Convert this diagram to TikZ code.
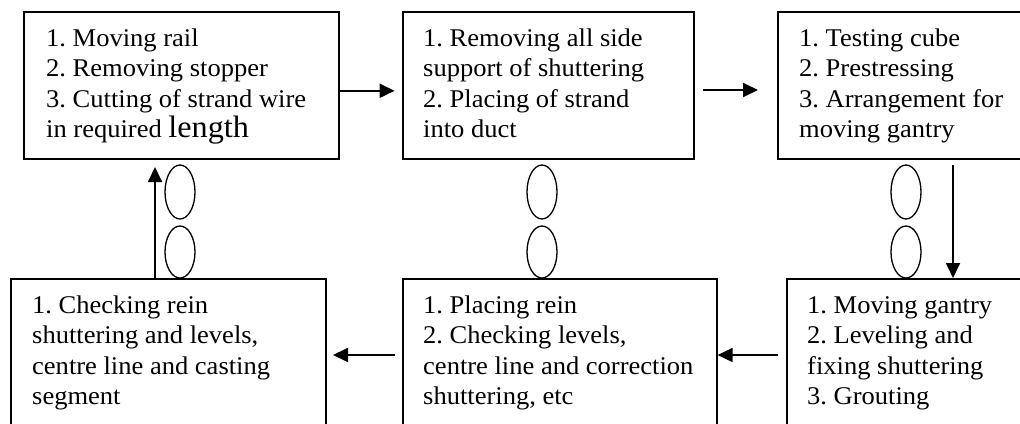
\documentclass[tikz,border=0pt]{standalone}
\usepackage{fontspec}
\setmainfont[FakeStretch=1.04]{Liberation Serif}
\usetikzlibrary{arrows.meta,shapes.geometric}
\begin{document}
\frenchspacing
\begin{tikzpicture}[x=1pt,y=-1pt,
  box/.style={draw, line width=1.6pt, rectangle, inner sep=0pt, anchor=north west},
  txt/.style={anchor=base west, inner sep=0pt, font=\fontsize{25.5}{30.5}\selectfont},
  link/.style={line width=1.8pt, -{Triangle[length=15pt,width=14pt]}},
  ring/.style={draw, line width=1.3pt, ellipse, minimum width=30pt, minimum height=54pt, inner sep=0pt}]
\useasboundingbox (0,0) rectangle (1020,423);
\clip (0,0) rectangle (1020,423);
% boxes
\node[box, minimum width=315pt, minimum height=147pt] (A) at (23,11) {};
\node[box, minimum width=291pt, minimum height=147pt] (B) at (402,11) {};
\node[box, minimum width=260pt, minimum height=147pt] (C) at (777,11) {};
\node[box, minimum width=260pt, minimum height=170pt] (D) at (786,278) {};
\node[box, minimum width=314pt, minimum height=170pt] (E) at (402,278) {};
\node[box, minimum width=315pt, minimum height=170pt] (F) at (10,278) {};
% texts
\node[txt] (tA) at (46,46) {\vtop{\hbox{1. Moving rail}\hbox{2. Removing stopper}\hbox{3. Cutting of strand wire}\hbox{in required {\fontsize{31}{31}\selectfont length}}}};
\node[txt] (tB) at (423,46) {\vtop{\hbox{1. Removing all side}\hbox{support of shuttering}\hbox{2. Placing of strand}\hbox{into duct}}};
\node[txt] (tC) at (799,46) {\vtop{\hbox{1. Testing cube}\hbox{2. Prestressing}\hbox{3. Arrangement for}\hbox{moving gantry}}};
\node[txt] (tF) at (32,313) {\vtop{\hbox{1. Checking rein}\hbox{shuttering and levels,}\hbox{centre line and casting}\hbox{segment}}};
\node[txt] (tE) at (423,313) {\vtop{\hbox{1. Placing rein}\hbox{2. Checking levels,}\hbox{centre line and correction}\hbox{shuttering, etc}}};
\node[txt] (tD) at (807,313) {\vtop{\hbox{1. Moving gantry}\hbox{2. Leveling and}\hbox{fixing shuttering}\hbox{3. Grouting}}};
% ellipses
\node[ring] (e1) at (180,192) {};
\node[ring, minimum height=52pt] (e2) at (180,252) {};
\node[ring] (e3) at (542,192) {};
\node[ring, minimum height=52pt] (e4) at (542,252) {};
\node[ring] (e5) at (906,192) {};
\node[ring, minimum height=52pt] (e6) at (906,252) {};
% connectors
\coordinate (bc) at (703,90);
\coordinate (cd) at (953,165);
\coordinate (de) at (778,355);
\coordinate (ef) at (395,355);
\coordinate (fa) at (155,278);
\draw[link] ([yshift=-5.5pt]A.east) -- ++(55,0);
\draw[link] (bc) -- ++(55,0);
\draw[link] (cd) -- (cd |- D.north);
\draw[link] (de) -- (de -| E.east);
\draw[link] (ef) -- ++(-62,0);
\draw[link] (fa) -- ++(0,-111);
\end{tikzpicture}
\end{document}
